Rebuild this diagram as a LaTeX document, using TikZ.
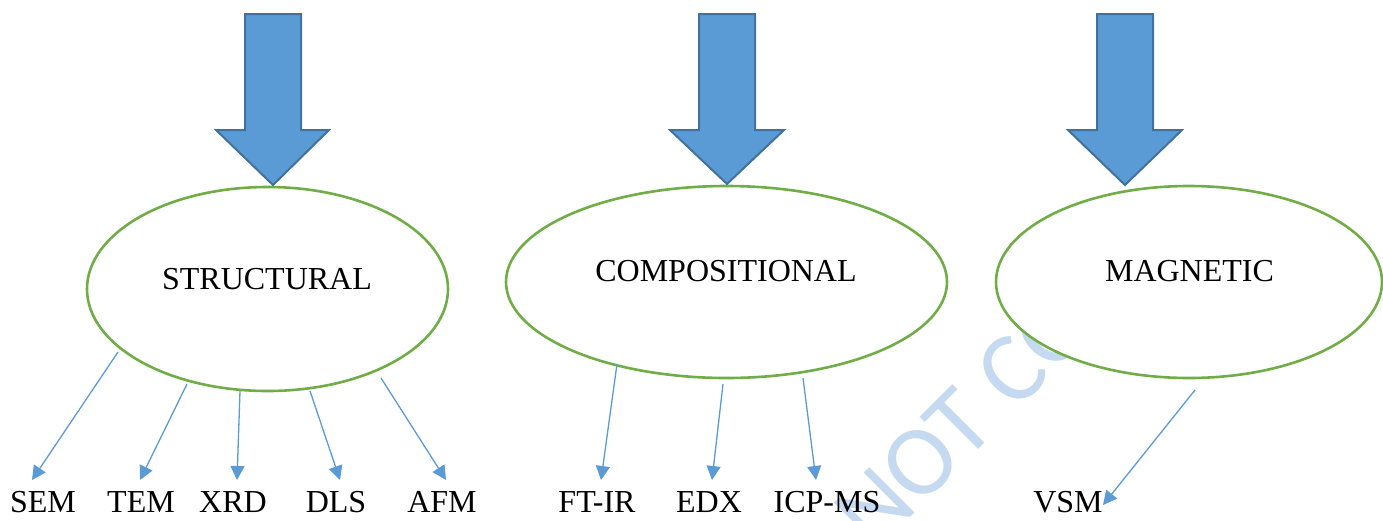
\documentclass[tikz,border=0pt]{standalone}
\usepackage{fontspec}
\setmainfont{Liberation Serif}
\newfontfamily\wmfont{Carlito}
\usetikzlibrary{shapes.geometric,arrows.meta}
\definecolor{arrfill}{HTML}{5B9BD5}
\definecolor{arrline}{HTML}{41719C}
\definecolor{ellgreen}{HTML}{70AD47}
\definecolor{wmblue}{HTML}{C5DAF0}
\tikzset{
  blockarrow/.style={fill=arrfill,draw=arrline,line width=2pt,line join=miter},
  category/.style={ellipse,draw=ellgreen,line width=2.6pt,fill=white,inner sep=0pt},
  cattext/.style={anchor=base,font=\fontsize{32}{38}\selectfont},
  method/.style={anchor=base,font=\fontsize{32}{38}\selectfont,inner sep=0pt},
  link/.style={draw=arrfill,line width=1.3pt,-{Triangle[length=14pt,width=14pt]}},
  wmark/.style={text=wmblue,font=\wmfont\fontsize{100}{106}\selectfont,rotate=45,anchor=base west,inner sep=0pt}
}
\begin{document}
\begin{tikzpicture}[x=1pt,y=-1pt]
\useasboundingbox (0,0) rectangle (1383,520);
% watermark
\node[wmark] (wm) at (874,554) {NOT CO};
% category ellipses
\node[category,minimum width=361pt,minimum height=204pt] (struct) at (267.5,289) {};
\node[category,minimum width=441pt,minimum height=192pt] (comp) at (726.5,282) {};
\node[category,minimum width=386pt,minimum height=192pt] (magn) at (1189,282) {};
\node[cattext] (structtxt) at (267,289) {STRUCTURAL};
\node[cattext] (comptxt) at (726,281) {COMPOSITIONAL};
\node[cattext] (magntxt) at (1189.5,281) {MAGNETIC};
% block arrows
\draw[blockarrow] (245,14) -- (301,14) -- (301,130) -- (329,130) -- (273,185) -- (216,130) -- (245,130) -- cycle;
\draw[blockarrow] (699,14) -- (755,14) -- (755,130) -- (784,130) -- (727,184) -- (670,130) -- (699,130) -- cycle;
\draw[blockarrow] (1097,14) -- (1153,14) -- (1153,130) -- (1182,130) -- (1125,185) -- (1068,130) -- (1097,130) -- cycle;
% method labels
\node[method] (sem) at (43,512) {SEM};
\node[method] (tem) at (141,512) {TEM};
\node[method] (xrd) at (233,512) {XRD};
\node[method] (dls) at (336,512) {DLS};
\node[method] (afm) at (442,512) {AFM};
\node[method] (ftir) at (597,512) {FT-IR};
\node[method] (edx) at (709,512) {EDX};
\node[method] (icp) at (827,512) {ICP-MS};
\node[method] (vsm) at (1068,512) {VSM};
% connector ends
\coordinate (s1) at (118,352); \coordinate (e1) at (32,480);
\coordinate (s2) at (187,384); \coordinate (e2) at (140,480);
\coordinate (s3) at (240,391); \coordinate (e3) at (237,480);
\coordinate (s4) at (310,391); \coordinate (e4) at (340,480);
\coordinate (s5) at (381,378); \coordinate (e5) at (446,480);
\coordinate (s6) at (617,364); \coordinate (e6) at (601,480);
\coordinate (s7) at (723,384); \coordinate (e7) at (712,480);
\coordinate (s8) at (803,378); \coordinate (e8) at (816,480);
\coordinate (s9) at (1195,390); \coordinate (e9) at (1103,505);
\draw[link] (s1) -- (e1);
\draw[link] (s2) -- (e2);
\draw[link] (s3) -- (e3);
\draw[link] (s4) -- (e4);
\draw[link] (s5) -- (e5);
\draw[link] (s6) -- (e6);
\draw[link] (s7) -- (e7);
\draw[link] (s8) -- (e8);
\draw[link] (s9) -- (e9);
\end{tikzpicture}
\end{document}
